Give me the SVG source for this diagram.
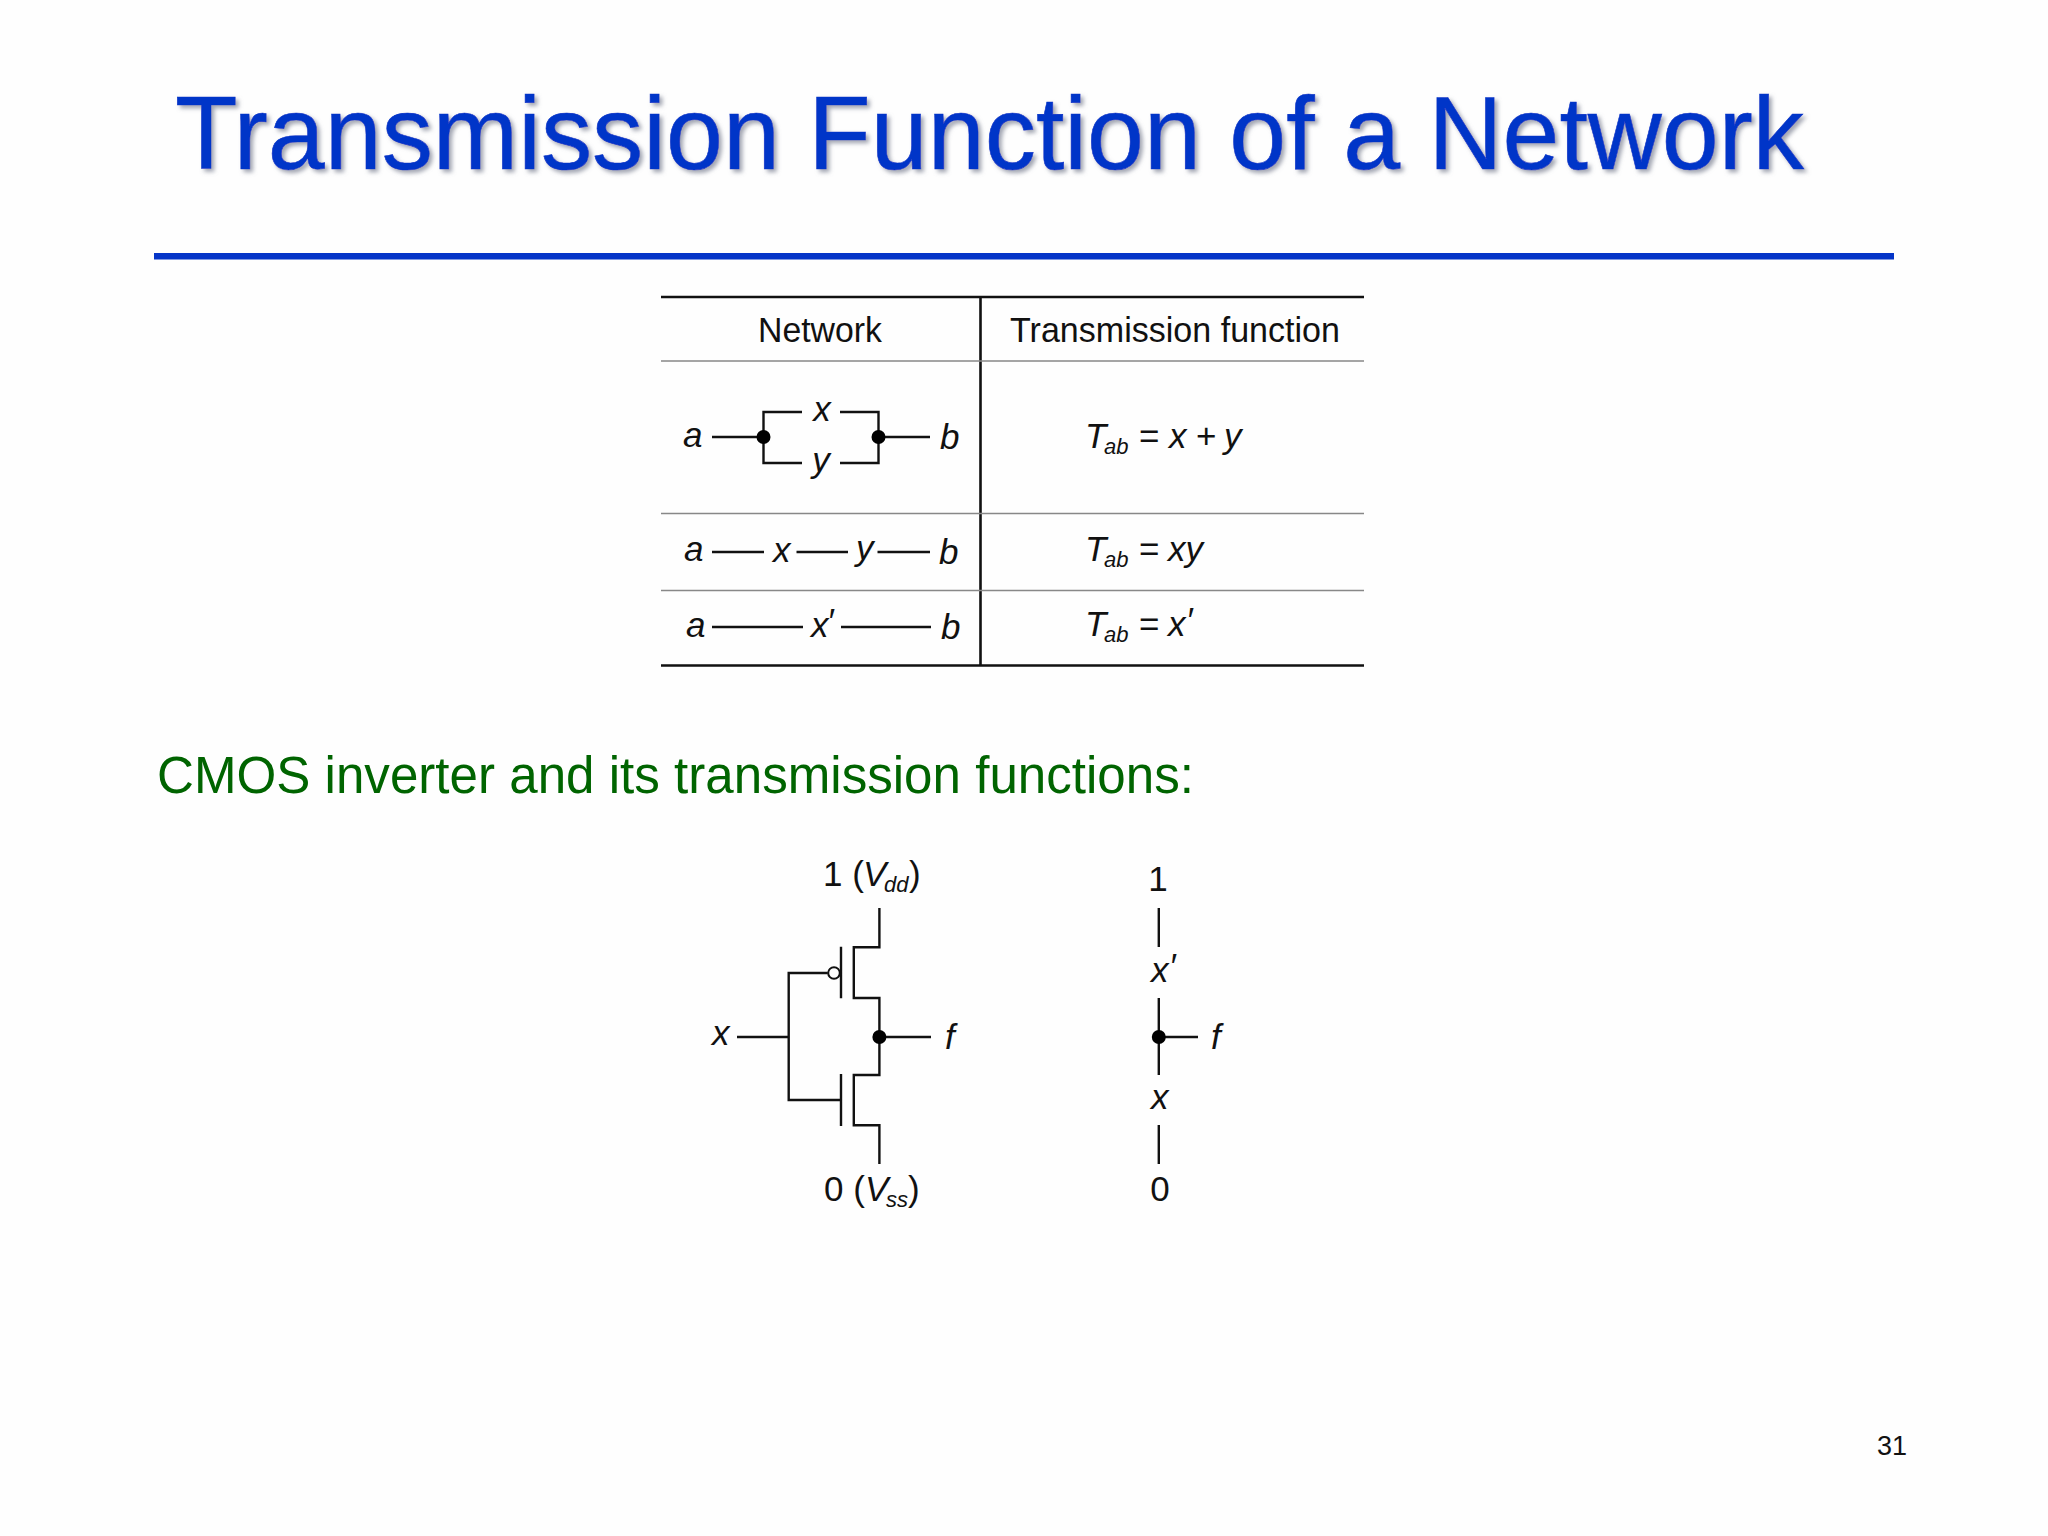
<svg xmlns="http://www.w3.org/2000/svg" width="2048" height="1536" viewBox="0 0 2048 1536">
<style>
text{font-family:"Liberation Sans",Arial,sans-serif;fill:#111}
.t{font-size:35px}
.i{font-size:35px;font-style:italic}
.s{font-size:22px;font-style:italic}
.w{fill:none;stroke:#111;stroke-width:2.4}
.thick{stroke:#111;stroke-width:2.6}
.thin{stroke:#888;stroke-width:1.5}
.d{fill:#000}
</style>
<defs><filter id="shadow" x="-5%" y="-20%" width="110%" height="140%"><feDropShadow dx="3" dy="3" stdDeviation="2" flood-color="#8a8f9e" flood-opacity="0.8"/></filter></defs>
<rect width="2048" height="1536" fill="#fefefe"/>
<g id="title">
<text x="175" y="169" font-size="103" textLength="1629" lengthAdjust="spacingAndGlyphs" style="fill:#0535c8;stroke:#0535c8;stroke-width:0.6" filter="url(#shadow)">Transmission Function of a Network</text>
<rect x="154" y="253" width="1740" height="6.500" fill="#0535c8"/>
</g>
<g id="table">
<path class="thick" d="M661 297H1364M661 665.5H1364M980.500 297V665.500"/>
<path class="thin" d="M661 361H1364M661 513.500H1364M661 590.500H1364"/>
<text class="t" x="758" y="342" textLength="124" lengthAdjust="spacingAndGlyphs">Network</text>
<text class="t" x="1010" y="342" textLength="330" lengthAdjust="spacingAndGlyphs">Transmission function</text>
</g>
<g id="connectors">
<path class="w" d="M712 437H763.500M802 412H763.500V463H802M840 412H878.500V463H840M878.500 437H930"/>
<path class="w" d="M712 552H764M796.500 552H848M877.500 552H930M712 627H803M841 627H931"/>
<path class="w" d="M737 1037H788.700M827.800 973H788.700V1100H841M841 946.700V998.300M841 1074V1126"/>
<path class="w" d="M879.400 908V947.300H853.800V998H879.400V1075H853.800V1125.300H879.400V1164M879.400 1037H931"/>
<path class="w" d="M1158.800 908V947M1158.800 998V1075M1158.800 1125V1164M1158.800 1037H1198"/>
<circle cx="834" cy="973" r="5.800" fill="#fff" stroke="#111" stroke-width="2"/>
<circle class="d" cx="763.500" cy="437" r="7"/><circle class="d" cx="878.500" cy="437" r="7"/>
<circle class="d" cx="879.400" cy="1037" r="7"/><circle class="d" cx="1158.800" cy="1037" r="7"/>
</g>
<g id="network-parallel">
<text class="i" x="683" y="447">a</text><text class="i" x="822" y="421" text-anchor="middle">x</text><text class="i" x="821" y="472" text-anchor="middle">y</text><text class="i" x="940" y="449">b</text>
</g>
<g id="network-series">
<text class="i" x="684" y="561">a</text><text class="i" x="773" y="562">x</text><text class="i" x="856" y="560">y</text><text class="i" x="939" y="564">b</text>
</g>
<g id="network-complement">
<text class="i" x="686" y="637">a</text><text class="i" x="811" y="637">x</text><text class="i" x="827" y="633" font-size="24">′</text><text class="i" x="941" y="639">b</text>
</g>
<g id="function-parallel">
<text class="i" x="1085" y="448">T</text><text class="s" x="1104" y="454">ab</text><text class="t" x="1139" y="448">=</text><text class="i" x="1169" y="448">x</text><text class="t" x="1196" y="448">+</text><text class="i" x="1224" y="448">y</text>
</g>
<g id="function-series">
<text class="i" x="1085" y="561">T</text><text class="s" x="1104" y="567">ab</text><text class="t" x="1139" y="561">=</text><text class="i" x="1168" y="561">xy</text>
</g>
<g id="function-complement">
<text class="i" x="1085" y="636">T</text><text class="s" x="1104" y="642">ab</text><text class="t" x="1139" y="636">=</text><text class="i" x="1168" y="636">x</text><text class="i" x="1186" y="632" font-size="24">′</text>
</g>
<text x="157" y="793" font-size="51" textLength="1037" lengthAdjust="spacingAndGlyphs" style="fill:#006400">CMOS inverter and its transmission functions:</text>
<g id="inverter">
<text class="t" x="823" y="886">1 (</text><text class="i" x="863" y="886">V</text><text class="s" x="884" y="892">dd</text><text class="t" x="909" y="886">)</text>
<text class="t" x="824" y="1201">0 (</text><text class="i" x="865" y="1201">V</text><text class="s" x="886" y="1207">ss</text><text class="t" x="908" y="1201">)</text>
<text class="i" x="712" y="1045">x</text><text class="i" x="945" y="1049">f</text>
</g>
<g id="switch">
<text class="t" x="1158" y="891" text-anchor="middle">1</text>
<text class="i" x="1151" y="982">x</text><text class="i" x="1169" y="978" font-size="24">′</text><text class="i" x="1151" y="1109">x</text>
<text class="i" x="1211" y="1049">f</text>
<text class="t" x="1160" y="1201" text-anchor="middle">0</text>
</g>
<text x="1877" y="1455" font-size="27">31</text>
</svg>
